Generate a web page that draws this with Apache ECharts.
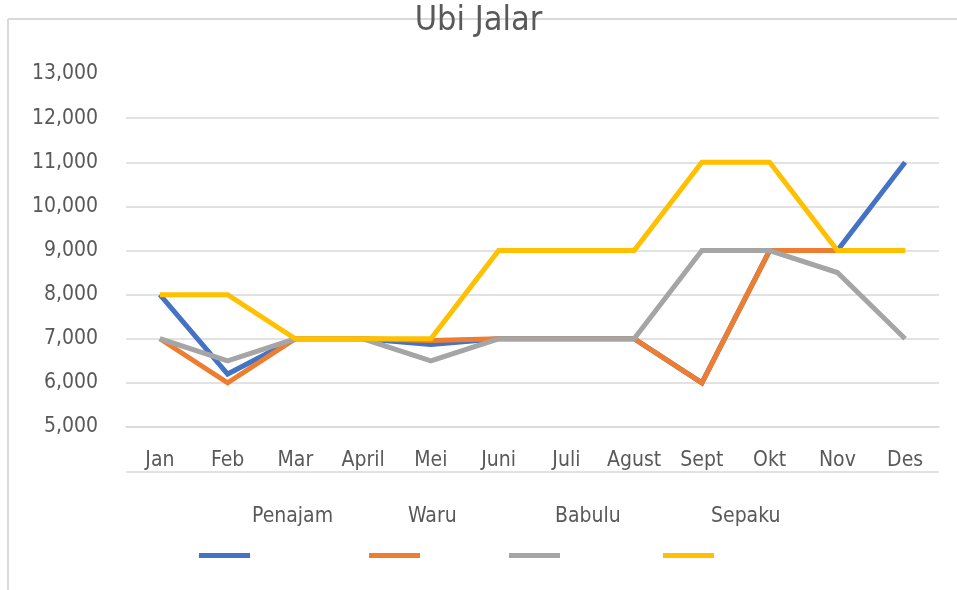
<!DOCTYPE html>
<html><head><meta charset="utf-8">
<script src="https://cdn.jsdelivr.net/npm/echarts@6/dist/echarts.min.js"></script>
<style>html,body{margin:0;padding:0;background:#fff}#c{width:957px;height:590px}</style>
</head><body><div id="c"></div>
<script>
const categories = ['Jan','Feb','Mar','April','Mei','Juni','Juli','Agust','Sept','Okt','Nov','Des'];
const penajam = [8000, 6200, 7000, 7000, 6870, 7000, 7000, 7000, 6000, 9000, 9000, 11000];
const waru    = [7000, 6000, 7000, 7000, 6960, 7000, 7000, 7000, 6000, 9000, 9000, 9000];
const babulu  = [7000, 6500, 7000, 7000, 6500, 7000, 7000, 7000, 9000, 9000, 8500, 7000];
const sepaku  = [8000, 8000, 7000, 7000, 7000, 9000, 9000, 9000, 11000, 11000, 9000, 9000];
const seriesNames = ['Penajam','Waru','Babulu','Sepaku'];
const colors = ['#4472C4','#ED7D31','#A5A5A5','#FFC000'];
const FONT = '"Liberation Sans Narrow","DejaVu Sans Condensed","Open Sans",sans-serif';
const chart = echarts.init(document.getElementById('c'));
const mk = (name, data, c) => ({name, type:'line', data, symbol:'none', lineStyle:{width:5, color:c, join:'miter'}, itemStyle:{color:c}, z:2});
const legendX = [199, 369, 509, 663];
const labelX = [297, 453, 600, 756];
chart.setOption({
  animation:false,
  title:{text:'Ubi Jalar', left:'center', top:-1, textStyle:{fontFamily:FONT, fontSize:34, fontWeight:'normal', color:'#595959'}},
  grid:{left:126, right:18, top:74, bottom:163},
  xAxis:{type:'category', data:categories, boundaryGap:true,
    axisLine:{show:true, lineStyle:{color:'#d9d9d9', width:1.5}}, axisTick:{show:false},
    axisLabel:{color:'#595959', fontFamily:FONT, fontSize:21, margin:23, interval:0, hideOverlap:false}},
  yAxis:{type:'value', min:5000, max:13000, interval:1000,
    axisLine:{show:false}, axisTick:{show:false},
    axisLabel:{color:'#595959', fontFamily:FONT, fontSize:21, margin:28,
      formatter:v=>v.toLocaleString('en-US')},
    splitLine:{lineStyle:{color:['#d9d9d9','#d9d9d9','#d9d9d9','#d9d9d9','#d9d9d9','#d9d9d9','#d9d9d9','#d9d9d9','rgba(0,0,0,0)'], width:1.5}}},
  legend: seriesNames.map((n,i)=>({data:[n], left:legendX[i], top:553, itemWidth:51, itemHeight:5, icon:'rect', formatter:()=>'', itemGap:0, padding:0})),
  graphic:[
    {type:'line', shape:{x1:8, y1:19, x2:957, y2:19}, style:{stroke:'#d9d9d9', lineWidth:2}, z:-1},
    {type:'line', shape:{x1:8, y1:19, x2:8, y2:590}, style:{stroke:'#d9d9d9', lineWidth:2}, z:-1},
    {type:'line', shape:{x1:126, y1:472, x2:939, y2:472}, style:{stroke:'#d9d9d9', lineWidth:1.5}},
    ...seriesNames.map((n,i)=>({type:'text', left:labelX[i]-45, top:506, style:{text:n, width:90, align:'center', fill:'#595959', font:'21px '+FONT}}))
  ],
  series:[mk('Penajam',penajam,colors[0]), mk('Waru',waru,colors[1]), mk('Babulu',babulu,colors[2]), mk('Sepaku',sepaku,colors[3])]
});
</script></body></html>
